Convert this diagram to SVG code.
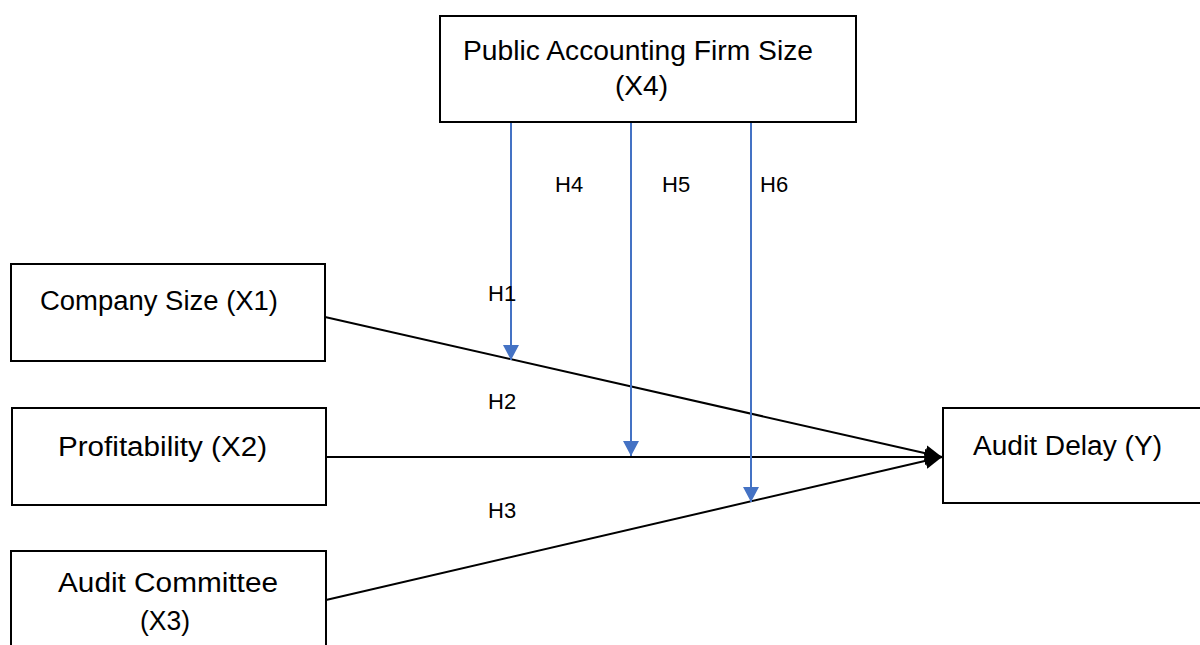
<svg xmlns="http://www.w3.org/2000/svg" width="1200" height="645" viewBox="0 0 1200 645">
<style>
.box{fill:#ffffff;stroke:#000000;stroke-width:2}
.lbl{font-family:"Liberation Sans",Arial,sans-serif;font-size:27px;fill:#000000}
.h{font-family:"Liberation Sans",Arial,sans-serif;font-size:22px;fill:#000000}
.blk{stroke:#000000;stroke-width:2;fill:none;marker-end:url(#ab)}
.blu{stroke:#4472C4;stroke-width:2;fill:none;marker-end:url(#au)}
</style>
<defs>
<marker id="ab" markerUnits="userSpaceOnUse" markerWidth="18" markerHeight="16" refX="17" refY="8" orient="auto" viewBox="0 0 18 16">
<path d="M0,0 L17,8 L0,16 z" fill="#000000"/>
</marker>
<marker id="au" markerUnits="userSpaceOnUse" markerWidth="16" markerHeight="16" refX="15" refY="8" orient="auto" viewBox="0 0 16 16">
<path d="M0,0 L15,8 L0,16 z" fill="#4472C4"/>
</marker>
</defs>
<rect width="1200" height="645" fill="#ffffff"/>
<g id="connectors">
<line class="blk" x1="325" y1="317" x2="942" y2="457"/>
<line class="blk" x1="326" y1="457" x2="942" y2="457"/>
<line class="blk" x1="326" y1="600" x2="942" y2="457"/>
<line class="blu" x1="511" y1="122" x2="511" y2="360"/>
<line class="blu" x1="631" y1="122" x2="631" y2="456"/>
<line class="blu" x1="751" y1="122" x2="751" y2="502"/>
<text class="h" x="555" y="192">H4</text>
<text class="h" x="662" y="192">H5</text>
<text class="h" x="760" y="192">H6</text>
<text class="h" x="488" y="301">H1</text>
<text class="h" x="488" y="409">H2</text>
<text class="h" x="488" y="518">H3</text>
</g>
<g id="node-x4">
<rect class="box" x="440" y="16" width="416" height="106"/>
<text class="lbl" x="463" y="60" textLength="350" lengthAdjust="spacingAndGlyphs">Public Accounting Firm Size</text>
<text class="lbl" x="615" y="95" textLength="53" lengthAdjust="spacingAndGlyphs">(X4)</text>
</g>
<g id="node-x1">
<rect class="box" x="11" y="264" width="314" height="97"/>
<text class="lbl" x="40" y="310" textLength="238" lengthAdjust="spacingAndGlyphs">Company Size (X1)</text>
</g>
<g id="node-x2">
<rect class="box" x="12" y="408" width="314" height="97"/>
<text class="lbl" x="58" y="456" textLength="209" lengthAdjust="spacingAndGlyphs">Profitability (X2)</text>
</g>
<g id="node-x3">
<rect class="box" x="11" y="551" width="315" height="110"/>
<text class="lbl" x="58" y="592" textLength="220" lengthAdjust="spacingAndGlyphs">Audit Committee</text>
<text class="lbl" x="140" y="630" textLength="50" lengthAdjust="spacingAndGlyphs">(X3)</text>
</g>
<g id="node-y">
<rect class="box" x="943" y="408" width="280" height="95"/>
<text class="lbl" x="973" y="455" textLength="189" lengthAdjust="spacingAndGlyphs">Audit Delay (Y)</text>
</g>
</svg>
